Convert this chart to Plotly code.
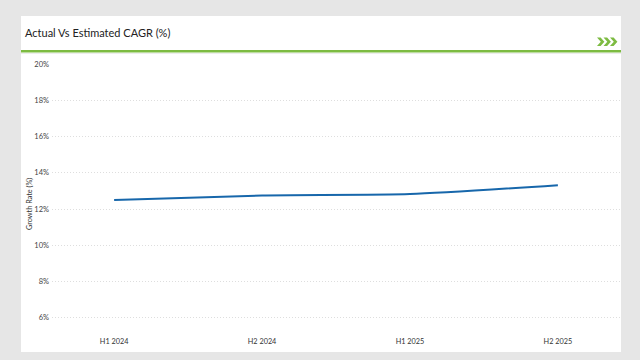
import plotly.graph_objects as go

categories = ["H1 2024", "H2 2024", "H1 2025", "H2 2025"]
growth_rate = [12.5, 12.75, 12.83, 13.32]
y_ticks = [6, 8, 10, 12, 14, 16, 18, 20]
y_tick_labels = [f"{v}%" for v in y_ticks]

W, H = 640, 360
FONT = "Lato, 'Open Sans', sans-serif"
GREEN = "#7dbb42"

def px(x):
    return x / W

def py(y):
    return 1 - y / H

fig = go.Figure()
fig.add_trace(go.Scatter(
    x=categories, y=growth_rate, mode="lines",
    line=dict(color="#1767ab", width=2, shape="spline", smoothing=0.6),
    hoverinfo="skip", showlegend=False,
))

shapes = [
    dict(type="rect", xref="paper", yref="paper", x0=px(21), x1=px(621), y0=py(352), y1=py(16),
         fillcolor="white", line=dict(width=0), layer="below"),
    dict(type="line", xref="paper", yref="paper", x0=px(21), x1=px(621), y0=py(53.5), y1=py(53.5),
         line=dict(color="#ededed", width=1), layer="below"),
    dict(type="line", xref="paper", yref="paper", x0=px(21), x1=px(621), y0=py(51.2), y1=py(51.2),
         line=dict(color=GREEN, width=2.5)),
]
for x0 in (597, 603.5, 610):
    pts = [(x0, 37.5), (x0 + 3.6, 37.5), (x0 + 7.4, 41.8), (x0 + 3.6, 46), (x0, 46), (x0 + 3.8, 41.8)]
    path = "M " + " L ".join(f"{px(a):.5f},{py(b):.5f}" for a, b in pts) + " Z"
    shapes.append(dict(type="path", xref="paper", yref="paper", path=path,
                       fillcolor=GREEN, line=dict(width=0)))

fig.update_layout(
    width=W, height=H, autosize=False,
    margin=dict(l=0, r=0, t=0, b=0, autoexpand=False),
    paper_bgcolor="#e6e6e6",
    plot_bgcolor="rgba(0,0,0,0)",
    font=dict(family=FONT, color="#444444", size=7.5),
    shapes=shapes,
    xaxis=dict(domain=[px(52), px(620)], range=[-0.42, 3.42], showgrid=False, zeroline=False,
               showline=False, ticks="", tickfont=dict(size=7.3, color="#333333"), fixedrange=True,
               automargin=False),
    yaxis=dict(domain=[py(336), py(64)], range=[5, 20], tickvals=y_ticks, ticktext=y_tick_labels,
               showgrid=True, gridcolor="#dedede", griddash="1px,2px", gridwidth=1, zeroline=False,
               showline=False, ticks="", ticklabelstandoff=2, tickfont=dict(size=7.5, color="#444444"),
               fixedrange=True, automargin=False),
    annotations=[
        dict(text="Actual Vs Estimated CAGR (%)", xref="paper", yref="paper", x=px(23), y=py(32),
             xanchor="left", yanchor="middle", showarrow=False,
             font=dict(family=FONT, size=11, color="#222222")),
        dict(text="Growth Rate (%)", xref="paper", yref="paper", x=px(29), y=py(204),
             xanchor="center", yanchor="middle", textangle=-90, showarrow=False,
             font=dict(family=FONT, size=7.3, color="#333333")),
    ],
)
post = ("var d=document.getElementById('{plot_id}');document.body.style.margin='0';"
        "document.body.style.background='#e6e6e6';document.documentElement.style.overflow='hidden';"
        "d.style.position='absolute';d.style.left='0px';d.style.top='0px';")
fig.write_html("out.html", post_script=post,
               config={"displayModeBar": False, "responsive": False, "staticPlot": True})
